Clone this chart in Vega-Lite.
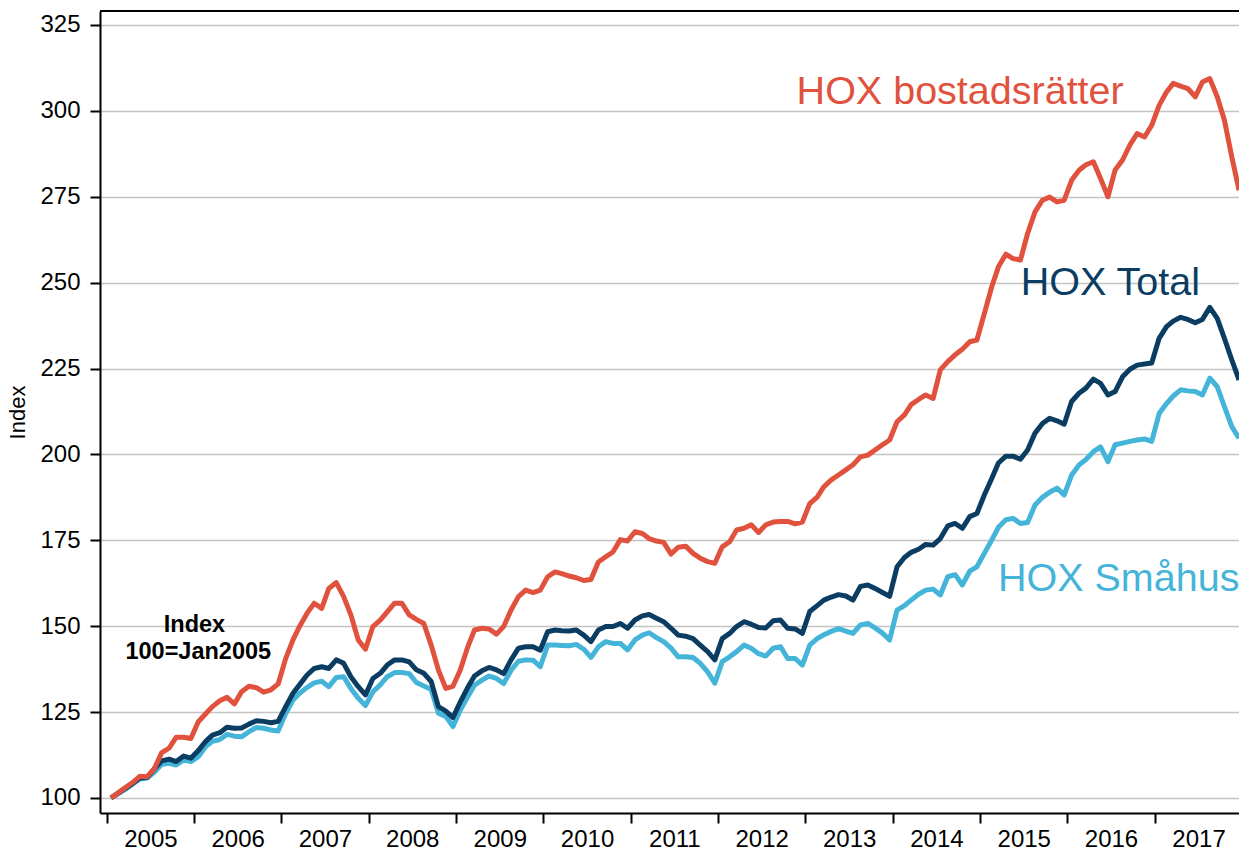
{
  "$schema": "https://vega.github.io/schema/vega-lite/v6.json",
  "width": 1139,
  "height": 802,
  "autosize": {"type": "none"},
  "padding": {"left": 100, "top": 11, "right": 0, "bottom": 42},
  "background": "white",
  "config": {"font": "Liberation Sans", "view": {"stroke": null}},
  "resolve": {"axis": {"x": "independent", "y": "independent"}},
  "datasets": {
    "series": [
      {"date":"2005-01-01","bostadsratter":100,"total":100,"smahus":100},
      {"date":"2005-02-01","bostadsratter":101.5,"total":101.5,"smahus":101.3},
      {"date":"2005-03-01","bostadsratter":103,"total":102.8,"smahus":102.5},
      {"date":"2005-04-01","bostadsratter":104.5,"total":104.2,"smahus":104},
      {"date":"2005-05-01","bostadsratter":106.3,"total":105.8,"smahus":105.5},
      {"date":"2005-06-01","bostadsratter":106.2,"total":106,"smahus":105.8},
      {"date":"2005-07-01","bostadsratter":108.5,"total":108.5,"smahus":107.5},
      {"date":"2005-08-01","bostadsratter":113.2,"total":110.8,"smahus":109.8},
      {"date":"2005-09-01","bostadsratter":114.5,"total":111.3,"smahus":110.1},
      {"date":"2005-10-01","bostadsratter":117.7,"total":110.6,"smahus":109.6},
      {"date":"2005-11-01","bostadsratter":117.7,"total":112.2,"smahus":111.1},
      {"date":"2005-12-01","bostadsratter":117.3,"total":111.6,"smahus":110.6},
      {"date":"2006-01-01","bostadsratter":122.2,"total":113.8,"smahus":112},
      {"date":"2006-02-01","bostadsratter":124.5,"total":116.5,"smahus":115},
      {"date":"2006-03-01","bostadsratter":126.6,"total":118.3,"smahus":116.5},
      {"date":"2006-04-01","bostadsratter":128.3,"total":119,"smahus":117},
      {"date":"2006-05-01","bostadsratter":129.3,"total":120.6,"smahus":118.5},
      {"date":"2006-06-01","bostadsratter":127.4,"total":120.3,"smahus":118},
      {"date":"2006-07-01","bostadsratter":130.9,"total":120.4,"smahus":117.8},
      {"date":"2006-08-01","bostadsratter":132.5,"total":121.5,"smahus":119.3},
      {"date":"2006-09-01","bostadsratter":132.1,"total":122.5,"smahus":120.5},
      {"date":"2006-10-01","bostadsratter":130.8,"total":122.3,"smahus":120.3},
      {"date":"2006-11-01","bostadsratter":131.5,"total":121.9,"smahus":119.8},
      {"date":"2006-12-01","bostadsratter":133.2,"total":122.3,"smahus":119.5},
      {"date":"2007-01-01","bostadsratter":140.5,"total":126.5,"smahus":124.5},
      {"date":"2007-02-01","bostadsratter":146,"total":130.5,"smahus":128.5},
      {"date":"2007-03-01","bostadsratter":150,"total":133,"smahus":130.5},
      {"date":"2007-04-01","bostadsratter":153.8,"total":135.8,"smahus":132.2},
      {"date":"2007-05-01","bostadsratter":156.7,"total":137.7,"smahus":133.5},
      {"date":"2007-06-01","bostadsratter":155.2,"total":138.2,"smahus":134},
      {"date":"2007-07-01","bostadsratter":161,"total":137.7,"smahus":132.4},
      {"date":"2007-08-01","bostadsratter":162.7,"total":140.2,"smahus":135.1},
      {"date":"2007-09-01","bostadsratter":158.6,"total":139.2,"smahus":135.3},
      {"date":"2007-10-01","bostadsratter":153.3,"total":135.3,"smahus":131.9},
      {"date":"2007-11-01","bostadsratter":146,"total":132.4,"smahus":129},
      {"date":"2007-12-01","bostadsratter":143.3,"total":130,"smahus":126.9},
      {"date":"2008-01-01","bostadsratter":149.9,"total":134.8,"smahus":130.9},
      {"date":"2008-02-01","bostadsratter":151.8,"total":136.3,"smahus":132.9},
      {"date":"2008-03-01","bostadsratter":154.2,"total":138.7,"smahus":135.3},
      {"date":"2008-04-01","bostadsratter":156.7,"total":140.2,"smahus":136.5},
      {"date":"2008-05-01","bostadsratter":156.7,"total":140.2,"smahus":136.5},
      {"date":"2008-06-01","bostadsratter":153.3,"total":139.6,"smahus":136.2},
      {"date":"2008-07-01","bostadsratter":152,"total":137.3,"smahus":133.6},
      {"date":"2008-08-01","bostadsratter":150.8,"total":136.3,"smahus":132.6},
      {"date":"2008-09-01","bostadsratter":144.5,"total":133.9,"smahus":131.6},
      {"date":"2008-10-01","bostadsratter":137.3,"total":126.6,"smahus":124.7},
      {"date":"2008-11-01","bostadsratter":131.9,"total":125.3,"smahus":123.7},
      {"date":"2008-12-01","bostadsratter":132.5,"total":123.4,"smahus":120.8},
      {"date":"2009-01-01","bostadsratter":137.3,"total":128,"smahus":125.6},
      {"date":"2009-02-01","bostadsratter":144,"total":132.2,"smahus":129.5},
      {"date":"2009-03-01","bostadsratter":148.9,"total":135.5,"smahus":132.8},
      {"date":"2009-04-01","bostadsratter":149.4,"total":137,"smahus":134.3},
      {"date":"2009-05-01","bostadsratter":149.2,"total":138,"smahus":135.5},
      {"date":"2009-06-01","bostadsratter":147.7,"total":137.3,"smahus":134.8},
      {"date":"2009-07-01","bostadsratter":149.9,"total":136.2,"smahus":133.3},
      {"date":"2009-08-01","bostadsratter":154.7,"total":140.2,"smahus":137.2},
      {"date":"2009-09-01","bostadsratter":158.6,"total":143.6,"smahus":139.8},
      {"date":"2009-10-01","bostadsratter":160.5,"total":144,"smahus":140.2},
      {"date":"2009-11-01","bostadsratter":159.8,"total":144,"smahus":140.1},
      {"date":"2009-12-01","bostadsratter":160.5,"total":143,"smahus":138.2},
      {"date":"2010-01-01","bostadsratter":164.4,"total":148.4,"smahus":144.5},
      {"date":"2010-02-01","bostadsratter":165.8,"total":148.9,"smahus":144.5},
      {"date":"2010-03-01","bostadsratter":165.3,"total":148.7,"smahus":144.4},
      {"date":"2010-04-01","bostadsratter":164.6,"total":148.6,"smahus":144.3},
      {"date":"2010-05-01","bostadsratter":164.1,"total":148.9,"smahus":144.7},
      {"date":"2010-06-01","bostadsratter":163.3,"total":147.4,"smahus":143.3},
      {"date":"2010-07-01","bostadsratter":163.6,"total":145.5,"smahus":140.9},
      {"date":"2010-08-01","bostadsratter":168.7,"total":148.9,"smahus":144},
      {"date":"2010-09-01","bostadsratter":170.2,"total":149.9,"smahus":145.5},
      {"date":"2010-10-01","bostadsratter":171.6,"total":149.9,"smahus":145},
      {"date":"2010-11-01","bostadsratter":175.2,"total":150.8,"smahus":145},
      {"date":"2010-12-01","bostadsratter":174.8,"total":149.4,"smahus":143.1},
      {"date":"2011-01-01","bostadsratter":177.5,"total":151.8,"smahus":146},
      {"date":"2011-02-01","bostadsratter":177,"total":153,"smahus":147.4},
      {"date":"2011-03-01","bostadsratter":175.5,"total":153.4,"smahus":148.1},
      {"date":"2011-04-01","bostadsratter":174.8,"total":152.3,"smahus":146.7},
      {"date":"2011-05-01","bostadsratter":174.4,"total":151.3,"smahus":145.5},
      {"date":"2011-06-01","bostadsratter":171,"total":149.4,"smahus":143.6},
      {"date":"2011-07-01","bostadsratter":173,"total":147.4,"smahus":141.1},
      {"date":"2011-08-01","bostadsratter":173.3,"total":147.1,"smahus":141.1},
      {"date":"2011-09-01","bostadsratter":171.2,"total":146.4,"smahus":140.9},
      {"date":"2011-10-01","bostadsratter":169.8,"total":144.5,"smahus":139.2},
      {"date":"2011-11-01","bostadsratter":168.8,"total":142.6,"smahus":136.7},
      {"date":"2011-12-01","bostadsratter":168.3,"total":140.2,"smahus":133.4},
      {"date":"2012-01-01","bostadsratter":173.1,"total":146.4,"smahus":139.7},
      {"date":"2012-02-01","bostadsratter":174.6,"total":147.9,"smahus":141.1},
      {"date":"2012-03-01","bostadsratter":178,"total":149.9,"smahus":142.6},
      {"date":"2012-04-01","bostadsratter":178.5,"total":151.3,"smahus":144.5},
      {"date":"2012-05-01","bostadsratter":179.5,"total":150.6,"smahus":143.6},
      {"date":"2012-06-01","bostadsratter":177.3,"total":149.6,"smahus":142},
      {"date":"2012-07-01","bostadsratter":179.5,"total":149.5,"smahus":141.3},
      {"date":"2012-08-01","bostadsratter":180.3,"total":151.6,"smahus":143.6},
      {"date":"2012-09-01","bostadsratter":180.5,"total":151.8,"smahus":144},
      {"date":"2012-10-01","bostadsratter":180.5,"total":149.4,"smahus":140.6},
      {"date":"2012-11-01","bostadsratter":179.8,"total":149.2,"smahus":140.6},
      {"date":"2012-12-01","bostadsratter":180.3,"total":147.9,"smahus":138.7},
      {"date":"2013-01-01","bostadsratter":185.7,"total":154.3,"smahus":144.5},
      {"date":"2013-02-01","bostadsratter":187.6,"total":156,"smahus":146.4},
      {"date":"2013-03-01","bostadsratter":190.6,"total":157.6,"smahus":147.5},
      {"date":"2013-04-01","bostadsratter":192.6,"total":158.5,"smahus":148.5},
      {"date":"2013-05-01","bostadsratter":194,"total":159.2,"smahus":149.3},
      {"date":"2013-06-01","bostadsratter":195.5,"total":158.8,"smahus":148.6},
      {"date":"2013-07-01","bostadsratter":197,"total":157.6,"smahus":147.9},
      {"date":"2013-08-01","bostadsratter":199.3,"total":161.6,"smahus":150.4},
      {"date":"2013-09-01","bostadsratter":199.8,"total":162,"smahus":150.8},
      {"date":"2013-10-01","bostadsratter":201.3,"total":161,"smahus":149.5},
      {"date":"2013-11-01","bostadsratter":202.8,"total":159.8,"smahus":148},
      {"date":"2013-12-01","bostadsratter":204.2,"total":158.7,"smahus":146},
      {"date":"2014-01-01","bostadsratter":209.5,"total":167.3,"smahus":154.7},
      {"date":"2014-02-01","bostadsratter":211.5,"total":170,"smahus":156},
      {"date":"2014-03-01","bostadsratter":214.5,"total":171.5,"smahus":157.6},
      {"date":"2014-04-01","bostadsratter":216,"total":172.4,"smahus":159.3},
      {"date":"2014-05-01","bostadsratter":217.3,"total":173.8,"smahus":160.5},
      {"date":"2014-06-01","bostadsratter":216.3,"total":173.6,"smahus":160.8},
      {"date":"2014-07-01","bostadsratter":224.6,"total":175.5,"smahus":159.1},
      {"date":"2014-08-01","bostadsratter":227,"total":179.2,"smahus":164.4},
      {"date":"2014-09-01","bostadsratter":229,"total":179.9,"smahus":165},
      {"date":"2014-10-01","bostadsratter":230.6,"total":178.5,"smahus":162},
      {"date":"2014-11-01","bostadsratter":232.8,"total":181.9,"smahus":166},
      {"date":"2014-12-01","bostadsratter":233.3,"total":182.8,"smahus":167.3},
      {"date":"2015-01-01","bostadsratter":241,"total":188.2,"smahus":171.2},
      {"date":"2015-02-01","bostadsratter":248.8,"total":193,"smahus":175.1},
      {"date":"2015-03-01","bostadsratter":254.6,"total":197.5,"smahus":178.8},
      {"date":"2015-04-01","bostadsratter":258.3,"total":199.5,"smahus":181},
      {"date":"2015-05-01","bostadsratter":257,"total":199.5,"smahus":181.4},
      {"date":"2015-06-01","bostadsratter":256.6,"total":198.6,"smahus":179.9},
      {"date":"2015-07-01","bostadsratter":264.3,"total":201.3,"smahus":180.2},
      {"date":"2015-08-01","bostadsratter":270.6,"total":206.2,"smahus":185.3},
      {"date":"2015-09-01","bostadsratter":274,"total":209,"smahus":187.5},
      {"date":"2015-10-01","bostadsratter":274.9,"total":210.5,"smahus":189},
      {"date":"2015-11-01","bostadsratter":273.5,"total":209.8,"smahus":190.2},
      {"date":"2015-12-01","bostadsratter":274,"total":208.8,"smahus":188.2},
      {"date":"2016-01-01","bostadsratter":279.8,"total":215.4,"smahus":194},
      {"date":"2016-02-01","bostadsratter":282.7,"total":217.8,"smahus":196.9},
      {"date":"2016-03-01","bostadsratter":284.3,"total":219.3,"smahus":198.5},
      {"date":"2016-04-01","bostadsratter":285.2,"total":221.9,"smahus":200.8},
      {"date":"2016-05-01","bostadsratter":280.3,"total":220.7,"smahus":202.2},
      {"date":"2016-06-01","bostadsratter":275,"total":217.3,"smahus":197.9},
      {"date":"2016-07-01","bostadsratter":282.8,"total":218.3,"smahus":202.8},
      {"date":"2016-08-01","bostadsratter":285.7,"total":222.6,"smahus":203.3},
      {"date":"2016-09-01","bostadsratter":290.1,"total":224.8,"smahus":203.8},
      {"date":"2016-10-01","bostadsratter":293.4,"total":226,"smahus":204.2},
      {"date":"2016-11-01","bostadsratter":292.4,"total":226.3,"smahus":204.5},
      {"date":"2016-12-01","bostadsratter":295.8,"total":226.6,"smahus":203.8},
      {"date":"2017-01-01","bostadsratter":301.6,"total":233.8,"smahus":211.9},
      {"date":"2017-02-01","bostadsratter":305.5,"total":237.2,"smahus":214.8},
      {"date":"2017-03-01","bostadsratter":308,"total":238.8,"smahus":217},
      {"date":"2017-04-01","bostadsratter":307.2,"total":239.9,"smahus":218.8},
      {"date":"2017-05-01","bostadsratter":306.5,"total":239.3,"smahus":218.5},
      {"date":"2017-06-01","bostadsratter":304.1,"total":238.3,"smahus":218.3},
      {"date":"2017-07-01","bostadsratter":308.4,"total":239.3,"smahus":217.3},
      {"date":"2017-08-01","bostadsratter":309.4,"total":242.8,"smahus":222.2},
      {"date":"2017-09-01","bostadsratter":304.1,"total":239.6,"smahus":219.7},
      {"date":"2017-10-01","bostadsratter":297.3,"total":233.8,"smahus":213.9},
      {"date":"2017-11-01","bostadsratter":286.6,"total":227.5,"smahus":208.1},
      {"date":"2017-12-01","bostadsratter":276.9,"total":221.7,"smahus":204.7}
    ],
    "labels": [
      {"date":"2012-11-07","index":302.0,"serie":"bostadsratter","label":"HOX bostadsrätter"},
      {"date":"2015-06-02","index":246.4,"serie":"total","label":"HOX Total"},
      {"date":"2015-02-27","index":160.25,"serie":"smahus","label":"HOX Småhus"}
    ],
    "notes": [
      {"date":"2005-12-16","index":148.4,"label":"Index"},
      {"date":"2006-01-01","index":140.4,"label":"100=Jan2005"}
    ],
    "frame": [{"index":329.07}]
  },
  "layer": [
    {
      "data": {"name": "series"},
      "transform": [{"fold": ["smahus","total","bostadsratter"], "as": ["serie","index"]}],
      "mark": {"type": "line", "strokeWidth": 5, "strokeJoin": "round"},
      "encoding": {
        "x": {
          "field": "date", "type": "temporal",
          "scale": {"type": "utc", "nice": false, "domain": [{"year":2004,"month":11,"date":16,"utc":true},{"year":2017,"month":12,"date":1,"utc":true}]},
          "axis": {
            "title": null,
            "values": [
              {"year":2004,"month":12,"date":14,"utc":true},{"year":2005,"month":12,"date":14,"utc":true},
              {"year":2006,"month":12,"date":14,"utc":true},{"year":2007,"month":12,"date":14,"utc":true},
              {"year":2008,"month":12,"date":14,"utc":true},{"year":2009,"month":12,"date":14,"utc":true},
              {"year":2010,"month":12,"date":14,"utc":true},{"year":2011,"month":12,"date":14,"utc":true},
              {"year":2012,"month":12,"date":14,"utc":true},{"year":2013,"month":12,"date":14,"utc":true},
              {"year":2014,"month":12,"date":14,"utc":true},{"year":2015,"month":12,"date":14,"utc":true},
              {"year":2016,"month":12,"date":14,"utc":true}
            ],
            "labelExpr": "utcyear(datum.value) + 1",
            "labelOffset": 43.7,
            "labelFlush": false,
            "labelOverlap": false,
            "labelFontSize": 24,
            "labelColor": "black",
            "labelPadding": 4,
            "grid": false,
            "domainColor": "black",
            "domainWidth": 2,
            "tickColor": "black",
            "tickWidth": 2,
            "tickSize": 10
          }
        },
        "y": {
          "field": "index", "type": "quantitative",
          "scale": {"domain": [95.63, 329.07], "nice": false, "zero": false},
          "axis": {
            "title": "Index",
            "values": [100,125,150,175,200,225,250,275,300,325],
            "grid": true,
            "gridColor": "#C4C4C4",
            "gridWidth": 1.5,
            "domainColor": "black",
            "domainWidth": 2,
            "tickColor": "black",
            "tickWidth": 2,
            "tickSize": 10,
            "labelFontSize": 24,
            "labelColor": "black",
            "labelPadding": 10,
            "titleFontSize": 22,
            "titleFontWeight": "normal",
            "titleColor": "black",
            "titlePadding": 10
          }
        },
        "color": {
          "field": "serie", "type": "nominal",
          "scale": {"domain": ["bostadsratter","total","smahus"], "range": ["#E0523D","#0B3D63","#45B4D9"]},
          "legend": null
        }
      }
    },
    {
      "data": {"name": "labels"},
      "mark": {"type": "text", "align": "left", "baseline": "alphabetic", "fontSize": 39.5, "font": "Liberation Sans"},
      "encoding": {
        "x": {"field": "date", "type": "temporal", "scale": {"type": "utc", "nice": false, "domain": [{"year":2004,"month":11,"date":16,"utc":true},{"year":2017,"month":12,"date":1,"utc":true}]}, "axis": null},
        "y": {"field": "index", "type": "quantitative", "scale": {"domain": [95.63, 329.07], "nice": false, "zero": false}, "axis": null},
        "color": {"field": "serie", "type": "nominal", "scale": {"domain": ["bostadsratter","total","smahus"], "range": ["#E0523D","#0B3D63","#45B4D9"]}, "legend": null},
        "text": {"field": "label", "type": "nominal"}
      }
    },
    {
      "data": {"name": "notes"},
      "mark": {"type": "text", "align": "center", "baseline": "alphabetic", "fontSize": 23.5, "fontWeight": "bold", "color": "black", "font": "Liberation Sans"},
      "encoding": {
        "x": {"field": "date", "type": "temporal", "scale": {"type": "utc", "nice": false, "domain": [{"year":2004,"month":11,"date":16,"utc":true},{"year":2017,"month":12,"date":1,"utc":true}]}, "axis": null},
        "y": {"field": "index", "type": "quantitative", "scale": {"domain": [95.63, 329.07], "nice": false, "zero": false}, "axis": null},
        "text": {"field": "label", "type": "nominal"}
      }
    },
    {
      "data": {"name": "frame"},
      "mark": {"type": "rule", "color": "black", "strokeWidth": 2},
      "encoding": {
        "y": {"field": "index", "type": "quantitative", "scale": {"domain": [95.63, 329.07], "nice": false, "zero": false}, "axis": null}
      }
    }
  ]
}
